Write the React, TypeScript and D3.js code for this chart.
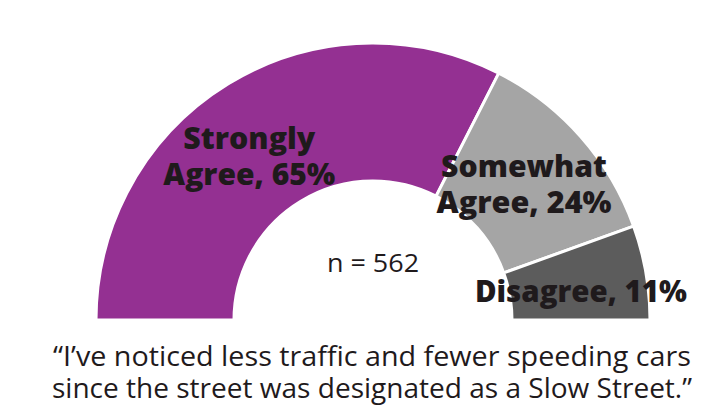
import React from 'react';
import * as d3 from 'd3';

const categories = ['Strongly Agree', 'Somewhat Agree', 'Disagree'];
const values = [65, 24, 11];
const colors = ['#943092', '#a5a5a5', '#5c5c5c'];
const labelLines = [
    ['Strongly', 'Agree, 65%'],
    ['Somewhat', 'Agree, 24%'],
    ['Disagree, 11%'],
];
const sampleLabel = 'n = 562';
const quoteLines = [
    '\u201CI\u2019ve noticed less traffic and fewer speeding cars',
    'since the street was designated as a Slow Street.\u201D',
];

// label nudges from the arc centroid, and widths to match the source type
const labelOffsets: [number, number][] = [[-15, 14], [-5, 3], [3, 8]];
const labelWidths = [[132, 172], [166, 175], [212]];
const quoteWidths = [638, 640];

const width = 707;
const height = 409;
const cx = 373;
const cy = 320;
const outerR = 277;
const innerR = 139;

export default function App() {
    const pie = d3.pie<number>()
        .sort(null)
        .startAngle(-Math.PI / 2)
        .endAngle(Math.PI / 2);
    const arcs = pie(values);

    const arc = d3.arc<d3.PieArcDatum<number>>()
        .innerRadius(innerR)
        .outerRadius(outerR);

    const font = '"Open Sans", "Noto Sans", sans-serif';

    return (
        <svg width={width} height={height}
            style={{ position: 'absolute', left: 0, top: 0, background: '#fff' }}>
            <g transform={`translate(${cx},${cy})`}>
                {arcs.map((a, i) => (
                    <path key={categories[i]} d={arc(a) || ''} fill={colors[i]}
                        stroke="#fff" strokeWidth={3} strokeLinejoin="miter" />
                ))}
                {arcs.map((a, i) => {
                    const [x, y] = arc.centroid(a);
                    const lines = labelLines[i];
                    const lh = 36;
                    const top = y + labelOffsets[i][1] - (lines.length - 1) * lh / 2 + 10;
                    return (
                        <text key={'l' + i} textAnchor="middle" fontFamily={font}
                            fontWeight={800} fontSize={30} fill="#1f1a1c">
                            {lines.map((t, j) => (
                                <tspan key={j} x={x + labelOffsets[i][0]} y={top + j * lh}
                                    textLength={labelWidths[i][j]} lengthAdjust="spacingAndGlyphs">{t}</tspan>
                            ))}
                        </text>
                    );
                })}
                <text x={0} y={-48} textAnchor="middle" fontFamily={font}
                    fontSize={25} fill="#1f1a1c" textLength={92}
                    lengthAdjust="spacingAndGlyphs">{sampleLabel}</text>
            </g>
            {quoteLines.map((t, j) => (
                <text key={'q' + j} x={cx - 1} y={366 + j * 32} textAnchor="middle"
                    fontFamily={font} fontSize={28} fill="#1f1a1c"
                    textLength={quoteWidths[j]} lengthAdjust="spacingAndGlyphs">{t}</text>
            ))}
        </svg>
    );
}
